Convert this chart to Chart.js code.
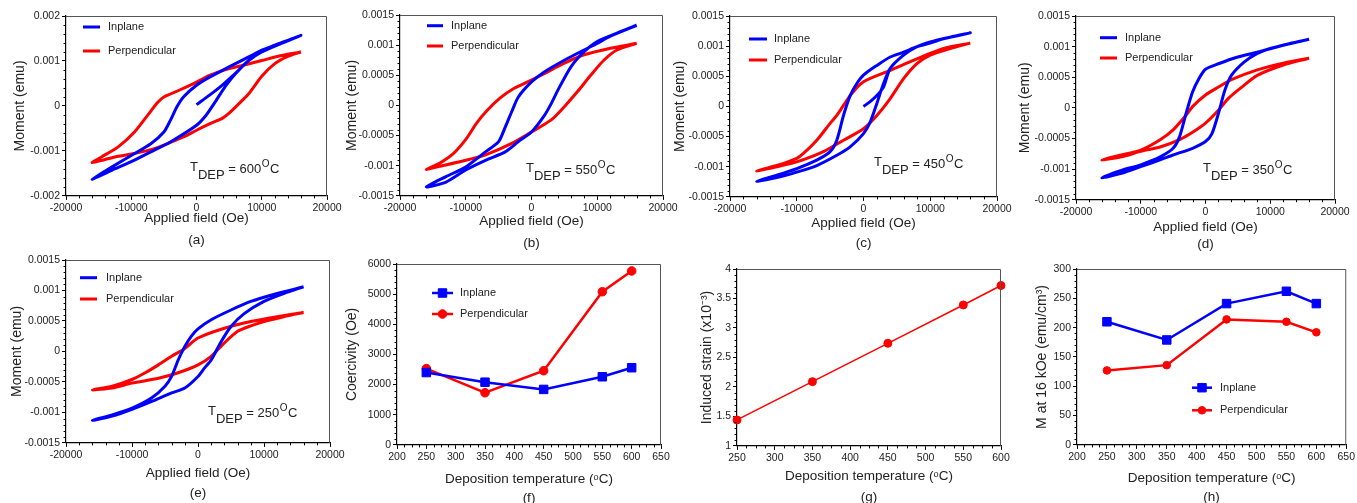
<!DOCTYPE html>
<html><head><meta charset="utf-8">
<script src="https://cdn.jsdelivr.net/npm/chart.js@4.4.1/dist/chart.umd.min.js"></script>
<style>
html,body{margin:0;padding:0;background:#fff;}
body{width:1357px;height:503px;position:relative;overflow:hidden;}
canvas{position:absolute;}
</style></head><body>
<script>
// ---------- tick labels ----------
const fieldTicks = [-20000, -10000, 0, 10000, 20000];
const momentTicksA = [-0.002, -0.001, 0, 0.001, 0.002];
const momentTicks = [-0.0015, -0.001, -0.0005, 0, 0.0005, 0.001, 0.0015];
const tempTicks = [200, 250, 300, 350, 400, 450, 500, 550, 600, 650];
const tempTicksG = [250, 300, 350, 400, 450, 500, 550, 600];
const coercTicks = [0, 1000, 2000, 3000, 4000, 5000, 6000];
const strainTicks = [1, 1.5, 2, 2.5, 3, 3.5, 4];
const magTicks = [0, 50, 100, 150, 200, 250, 300];

// ---------- hysteresis loops [field (Oe), moment (emu)] in drawing order ----------
const loopA_inplane = [[0,0.00003],[2000,0.00024],[4000,0.00047],[6000,0.00073],[8000,0.00101],[10000,0.0012],[13000,0.00139],[16000,0.00157],
 [12000,0.00135],[10000,0.00124],[8000,0.00109],[5000,0.00087],[2000,0.00064],[0,0.00046],[-2000,0.0002],[-3000,-0.00002],[-4000,-0.00032],[-5000,-0.00058],[-7000,-0.00084],[-10000,-0.0011],[-13000,-0.00136],[-16000,-0.00163],
 [-13000,-0.00143],[-10000,-0.00124],[-7000,-0.00102],[-4000,-0.0008],[0,-0.00043],[1500,-0.0002],[3000,0.00012],[4500,0.00045],[6000,0.00072],[8000,0.00101],[10000,0.0012],[13000,0.00139],[16000,0.00157]];
const loopA_perp = [[16000,0.0012],[13000,0.00112],[10000,0.00101],[7000,0.0009],[5000,0.00083],[2000,0.00068],[0,0.00053],[-2500,0.00036],[-5000,0.0002],[-6000,0.00007],[-7500,-0.00021],[-9500,-0.00058],[-12000,-0.00091],[-14500,-0.00113],[-16000,-0.00126],
 [-14000,-0.00119],[-12000,-0.00112],[-10000,-0.00107],[-7000,-0.00097],[-5000,-0.00087],[-2000,-0.00069],[0,-0.00054],[2000,-0.0004],[4000,-0.00027],[5000,-0.00016],[6500,0.00005],[8000,0.00027],[10000,0.00066],[12000,0.00094],[14000,0.0011],[16000,0.0012]];

const loopB_inplane = [[16000,0.00133],[12000,0.00115],[10000,0.00103],[8000,0.00092],[5000,0.00075],[2000,0.00056],[0,0.00039],[-2000,0.00014],[-3000,-0.0001],[-4000,-0.00036],[-5000,-0.0006],[-7000,-0.00077],[-10000,-0.00102],[-13000,-0.00118],[-16000,-0.00135],
 [-13000,-0.00127],[-10000,-0.00107],[-7000,-0.00091],[-4000,-0.00077],[-2000,-0.0006],[0,-0.00044],[2000,-0.00016],[3000,0.00003],[4000,0.00025],[6000,0.00064],[8000,0.00089],[10000,0.00106],[13000,0.0012],[16000,0.00133]];
const loopB_perp = [[16000,0.00103],[12000,0.00095],[8000,0.00084],[5000,0.0007],[2000,0.00053],[0,0.00042],[-2700,0.00028],[-4800,0.00012],[-6900,-0.0001],[-8400,-0.0003],[-9900,-0.00055],[-11900,-0.0008],[-14000,-0.00096],[-16000,-0.00106],
 [-14000,-0.00101],[-10000,-0.00091],[-7000,-0.00082],[-3000,-0.00063],[0,-0.00044],[3000,-0.00024],[5000,-0.00002],[7000,0.00023],[9000,0.0005],[11000,0.00075],[13000,0.00092],[16000,0.00103]];

const loopC_inplane = [[0,0],[1000,0.00008],[2000,0.00018],[3000,0.00032],[4000,0.00063],[6000,0.00085],[8000,0.00099],[10000,0.00107],[13000,0.00115],[16000,0.00122],
 [12000,0.00112],[10000,0.00105],[8000,0.00099],[6000,0.0009],[4000,0.00082],[2000,0.00068],[0,0.00052],[-1000,0.00038],[-2000,0.00018],[-3000,-0.00015],[-4000,-0.00056],[-5000,-0.00075],[-7000,-0.00089],[-10000,-0.00103],[-13000,-0.00114],[-16000,-0.00124],
 [-13000,-0.00118],[-10000,-0.00109],[-7000,-0.00098],[-4000,-0.00081],[-2000,-0.00067],[0,-0.00045],[1000,-0.00026],[2000,0.00005],[3000,0.00038],[4000,0.00063],[6000,0.00085],[8000,0.00099],[10000,0.00107],[13000,0.00115],[16000,0.00122]];
const loopC_perp = [[16000,0.00105],[12000,0.00096],[8000,0.00079],[4000,0.0006],[0,0.00041],[-2000,0.00018],[-4000,-0.00015],[-5000,-0.00028],[-7000,-0.00056],[-9000,-0.00078],[-10000,-0.00086],[-13000,-0.00098],[-16000,-0.00107],
 [-13000,-0.001],[-10000,-0.00092],[-6000,-0.00075],[-3000,-0.00056],[0,-0.00037],[2000,-0.00015],[4000,0.00013],[6000,0.00046],[8000,0.00071],[10000,0.00085],[13000,0.00096],[16000,0.00105]];

const loopD_inplane = [[16000,0.00112],[12000,0.00102],[8000,0.00091],[5000,0.00083],[2000,0.00072],[0,0.00063],[-1000,0.00048],[-2000,0.00026],[-3000,-0.00009],[-4000,-0.00047],[-5000,-0.00066],[-7000,-0.0008],[-10000,-0.00093],[-13000,-0.00102],[-16000,-0.00114],
 [-13000,-0.00107],[-10000,-0.00096],[-7000,-0.00085],[-5000,-0.00077],[-2000,-0.00066],[0,-0.00055],[1000,-0.00042],[2000,-0.00009],[3000,0.00029],[4000,0.00053],[6000,0.00075],[8000,0.00089],[10000,0.00097],[13000,0.00105],[16000,0.00112]];
const loopD_perp = [[16000,0.00081],[12000,0.00073],[8000,0.00062],[4000,0.00046],[2000,0.00034],[0,0.00021],[-2000,0.00002],[-3000,-0.00012],[-5000,-0.00036],[-7000,-0.00052],[-10000,-0.00069],[-13000,-0.00077],[-16000,-0.00085],
 [-13000,-0.0008],[-10000,-0.00071],[-7000,-0.00064],[-4000,-0.00052],[-2000,-0.0004],[0,-0.00025],[2000,-0.00004],[3500,0.00015],[5500,0.00033],[8000,0.00053],[12000,0.0007],[16000,0.00081]];

const loopE_inplane = [[16000,0.00106],[12000,0.00095],[8000,0.00082],[5000,0.00068],[2000,0.00052],[0,0.00037],[-1000,0.00025],[-2000,0.00008],[-3000,-0.00014],[-4000,-0.00041],[-5000,-0.00057],[-7000,-0.00076],[-10000,-0.00093],[-13000,-0.00104],[-16000,-0.00113],
 [-13000,-0.00106],[-10000,-0.00095],[-7000,-0.00082],[-4000,-0.00068],[-2000,-0.0006],[0,-0.00041],[1000,-0.00027],[2000,-0.00014],[3500,0.00016],[5000,0.00041],[7000,0.00062],[10000,0.00082],[13000,0.00095],[16000,0.00106]];
const loopE_perp = [[16000,0.00064],[12000,0.00057],[8000,0.00049],[4000,0.00038],[0,0.00022],[-2000,0.00005],[-4000,-0.00008],[-6000,-0.00022],[-8000,-0.00035],[-10000,-0.00046],[-13000,-0.00057],[-16000,-0.00063],
 [-13000,-0.0006],[-10000,-0.00052],[-6000,-0.00044],[-3000,-0.00035],[0,-0.00022],[2000,-0.00008],[4000,0.00014],[6000,0.00033],[8000,0.00042],[10000,0.00049],[13000,0.00057],[16000,0.00064]];

// ---------- summary data ----------
const depTemps = [250, 350, 450, 550, 600];
const coercInplane = [2400, 2080, 1840, 2260, 2560];
const coercPerp = [2530, 1730, 2460, 5080, 5770];
const strain = [1.44, 2.09, 2.74, 3.39, 3.72];
const magInplane = [210, 179, 241, 262, 241];
const magPerp = [127, 136, 214, 210, 192];

// ---------- rendering ----------
const FONT = "'Liberation Sans', Arial, Helvetica, sans-serif";
Chart.defaults.font.family = FONT;
Chart.defaults.color = '#222';
const BLUE = '#0000ff', RED = '#ff0000';
const fmt = v => String(Number(Number(v).toPrecision(6)));
const toXY = arr => arr.map(([x, y]) => ({x, y}));
const pairs = (xs, ys) => xs.map((x, i) => ({x, y: ys[i]}));

function drawMarker(ctx, style, r, x, y, color) {
  ctx.fillStyle = color; ctx.strokeStyle = color; ctx.lineWidth = 1;
  ctx.beginPath();
  if (style === 'rect') { const s = r * Math.SQRT1_2; ctx.rect(x - s, y - s, 2 * s, 2 * s); }
  else ctx.arc(x, y, r, 0, Math.PI * 2);
  ctx.fill(); ctx.stroke();
}

const extras = {
  id: 'extras',
  afterDraw(chart, args, o) {
    const {ctx, chartArea: ca, scales: {x, y}} = chart;
    ctx.save();
    ctx.strokeStyle = '#555'; ctx.lineWidth = 1;
    ctx.beginPath();
    ctx.moveTo(ca.left, ca.top + 0.5); ctx.lineTo(ca.right - 0.5, ca.top + 0.5); ctx.lineTo(ca.right - 0.5, ca.bottom);
    ctx.stroke();
    ctx.strokeStyle = '#000'; ctx.lineWidth = 1;
    const minor = (scale, step, major, horiz) => {
      const n = Math.round((scale.max - scale.min) / step);
      const k = Math.round(major / step);
      ctx.beginPath();
      for (let i = 0; i <= n; i++) {
        if (i % k === 0) continue;
        const p = Math.round(scale.getPixelForValue(scale.min + i * step)) + 0.5;
        if (horiz) { ctx.moveTo(p, ca.bottom); ctx.lineTo(p, ca.bottom + 2.5); }
        else { ctx.moveTo(ca.left, p); ctx.lineTo(ca.left - 2.5, p); }
      }
      ctx.stroke();
    };
    minor(x, o.xMinor[0], o.xMinor[1], true);
    minor(y, o.yMinor[0], o.yMinor[1], false);
    if (o.legend) {
      const lg = o.legend;
      chart.data.datasets.forEach((ds, i) => {
        const yy = ca.top + lg.dy + i * lg.gap;
        const x0 = ca.left + lg.dx;
        ctx.strokeStyle = ds.borderColor; ctx.lineWidth = lg.lw;
        ctx.beginPath(); ctx.moveTo(x0, yy); ctx.lineTo(x0 + lg.len, yy); ctx.stroke();
        if (lg.markers) drawMarker(ctx, ds.pointStyle, ds.pointRadius, x0 + lg.len / 2, yy, ds.borderColor);
        ctx.fillStyle = '#222'; ctx.font = `11px ${FONT}`; ctx.textBaseline = 'middle'; ctx.textAlign = 'left';
        ctx.fillText(ds.label, x0 + lg.len + lg.tg, yy);
      });
    }
    if (o.tdep) {
      let tx = ca.left + o.tdep.dx; const b = ca.bottom - o.tdep.db;
      ctx.fillStyle = '#222'; ctx.textBaseline = 'alphabetic'; ctx.textAlign = 'left';
      ctx.font = `13px ${FONT}`;
      ctx.fillText('T', tx, b - 2); tx += ctx.measureText('T').width;
      ctx.fillText('DEP', tx, b + 6); tx += ctx.measureText('DEP').width;
      const s = ' = ' + o.tdep.temp; ctx.fillText(s, tx, b); tx += ctx.measureText(s).width;
      ctx.font = `10px ${FONT}`; ctx.fillText('O', tx + 0.5, b - 6); tx += ctx.measureText('O').width + 1;
      ctx.font = `13px ${FONT}`; ctx.fillText('C', tx, b);
    }
    ctx.restore();
  }
};

function makePanel(p) {
  const XS = 13.5, YS = 14, LS = 13.5;
  const lhX = XS * 1.2, lhY = YS * 1.2, lhL = LS * 1.2;
  const yWidth = p.plot.L - p.box.x;
  const yPad = Math.max(0, p.yTitleX - p.box.x - lhY / 2);
  const xH = p.xTitleY + lhX / 2 - p.plot.B;
  const lPad = Math.max(0, p.labelY - (p.plot.B + xH) - lhL / 2);
  const h = Math.round(p.plot.B - p.box.y + xH + lhL + lPad + 2);
  const cv = document.createElement('canvas');
  cv.width = p.box.w; cv.height = h;
  cv.style.left = p.box.x + 'px'; cv.style.top = p.box.y + 'px';
  cv.style.width = p.box.w + 'px'; cv.style.height = h + 'px';
  document.body.appendChild(cv);
  const axis = (tk, title, size, pad, fit) => ({
    type: 'linear', min: tk[0], max: tk[tk.length - 1],
    afterBuildTicks: s => { s.ticks = tk.map(v => ({value: v})); },
    afterFit: fit,
    ticks: {autoSkip: false, maxRotation: 0, minRotation: 0, padding: 2, font: {size: 10.5}, color: '#222', callback: v => fmt(v)},
    grid: {display: true, drawOnChartArea: false, drawTicks: true, tickLength: 4, tickColor: '#000', tickWidth: 1},
    border: {display: true, color: '#000', width: 1.2},
    title: {display: true, text: title, font: {size}, color: '#222', padding: pad}
  });
  new Chart(cv, {
    type: 'scatter',
    data: {datasets: p.datasets},
    options: {
      responsive: false, animation: false, devicePixelRatio: 1,
      layout: {padding: {left: 0, top: p.plot.T - p.box.y, right: p.box.x + p.box.w - p.plot.R, bottom: 0}},
      scales: {
        x: axis(p.xTicks, p.xTitle, XS, {top: 0, bottom: 0}, s => { s.height = xH; }),
        y: axis(p.yTicks, p.yTitle, YS, {top: yPad, bottom: 0}, s => { s.width = yWidth; })
      },
      plugins: {
        legend: {display: false}, tooltip: {enabled: false},
        title: {display: true, position: 'bottom', fullSize: false, text: p.label,
                font: {size: LS, weight: 'normal'}, color: '#222', padding: {top: lPad, bottom: 2}},
        extras: {xMinor: p.xMinor, yMinor: p.yMinor, legend: p.legend, tdep: p.tdep}
      }
    },
    plugins: [extras]
  });
}

const loopSets = (inp, perp) => [
  {label: 'Inplane', data: toXY(inp), showLine: true, borderColor: BLUE, backgroundColor: BLUE, borderWidth: 3, pointRadius: 0, tension: 0.25, clip: false},
  {label: 'Perpendicular', data: toXY(perp), showLine: true, borderColor: RED, backgroundColor: RED, borderWidth: 3, pointRadius: 0, tension: 0.25, clip: false}
];
const loopLegend = (dx, len, tg, dy, gap) => ({dx, len, tg, dy, gap, lw: 3, markers: false});

const hyst = [
  {box: {x: 0, y: 0, w: 352}, plot: {L: 66, T: 16, R: 327, B: 196}, yTitleX: 20, xTitleY: 218, labelY: 240, label: '(a)',
   inp: loopA_inplane, perp: loopA_perp, yTicks: momentTicksA, yMinor: [0.0002, 0.001], legend: loopLegend(17, 17, 8, 11, 24), tdep: {dx: 124, db: 22.5, temp: '600'}},
  {box: {x: 340, y: 0, w: 348}, plot: {L: 400, T: 15, R: 663, B: 196}, yTitleX: 352, xTitleY: 221, labelY: 243, label: '(b)',
   inp: loopB_inplane, perp: loopB_perp, yTicks: momentTicks, yMinor: [0.0001, 0.0005], legend: loopLegend(27, 16, 8, 10.7, 20.3), tdep: {dx: 126, db: 21.5, temp: '550'}},
  {box: {x: 670, y: 0, w: 352}, plot: {L: 730, T: 16, R: 997, B: 197}, yTitleX: 680, xTitleY: 223, labelY: 243, label: '(c)',
   inp: loopC_inplane, perp: loopC_perp, yTicks: momentTicks, yMinor: [0.0001, 0.0005], legend: loopLegend(19, 18, 7, 23, 21), tdep: {dx: 144, db: 29, temp: '450'}},
  {box: {x: 1010, y: 0, w: 347}, plot: {L: 1076, T: 16, R: 1335, B: 200}, yTitleX: 1025, xTitleY: 228, labelY: 243, label: '(d)',
   inp: loopD_inplane, perp: loopD_perp, yTicks: momentTicks, yMinor: [0.0001, 0.0005], legend: loopLegend(24, 17, 8, 21.7, 20.3), tdep: {dx: 127, db: 26, temp: '350'}},
  {box: {x: 0, y: 250, w: 355}, plot: {L: 66, T: 260, R: 330, B: 443}, yTitleX: 17, xTitleY: 473, labelY: 493, label: '(e)',
   inp: loopE_inplane, perp: loopE_perp, yTicks: momentTicks, yMinor: [0.0001, 0.0005], legend: loopLegend(14, 17, 9, 17.7, 21.3), tdep: {dx: 142, db: 25.5, temp: '250'}}
];
hyst.forEach(h => makePanel({
  box: h.box, plot: h.plot, yTitleX: h.yTitleX, xTitleY: h.xTitleY, labelY: h.labelY, label: h.label,
  datasets: loopSets(h.inp, h.perp), xTicks: fieldTicks, yTicks: h.yTicks,
  xMinor: [2000, 10000], yMinor: h.yMinor,
  xTitle: 'Applied field (Oe)', yTitle: 'Moment (emu)', legend: h.legend, tdep: h.tdep
}));

const lineSet = (label, data, color, style, r, bw) => ({label, data, showLine: true, borderColor: color, backgroundColor: color,
  borderWidth: bw, pointStyle: style, pointRadius: r, pointBorderWidth: 1, tension: 0, clip: false});

makePanel({
  box: {x: 335, y: 250, w: 351}, plot: {L: 397, T: 264, R: 661, B: 445}, yTitleX: 352, xTitleY: 479, labelY: 498, label: '(f)',
  datasets: [lineSet('Inplane', pairs(depTemps, coercInplane), BLUE, 'rect', 6, 2.5),
             lineSet('Perpendicular', pairs(depTemps, coercPerp), RED, 'circle', 4.3, 2.5)],
  xTicks: tempTicks, yTicks: coercTicks, xMinor: [12.5, 50], yMinor: [200, 1000],
  xTitle: 'Deposition temperature (ᵒC)', yTitle: 'Coercivity (Oe)',
  legend: {dx: 35, len: 21, tg: 7, dy: 29, gap: 21, lw: 2.5, markers: true}
});
makePanel({
  box: {x: 690, y: 250, w: 336}, plot: {L: 737, T: 269, R: 1001, B: 446}, yTitleX: 707, xTitleY: 476, labelY: 497, label: '(g)',
  datasets: [lineSet('Induced strain', pairs(depTemps, strain), RED, 'circle', 4, 1.5)],
  xTicks: tempTicksG, yTicks: strainTicks, xMinor: [12.5, 50], yMinor: [0.1, 0.5],
  xTitle: 'Deposition temperature (ᵒC)', yTitle: 'Induced strain (x10⁻³)'
});
makePanel({
  box: {x: 1025, y: 250, w: 332}, plot: {L: 1077, T: 269, R: 1348, B: 445}, yTitleX: 1042, xTitleY: 478, labelY: 497, label: '(h)',
  datasets: [lineSet('Inplane', pairs(depTemps, magInplane), BLUE, 'rect', 6, 2.5),
             lineSet('Perpendicular', pairs(depTemps, magPerp), RED, 'circle', 3.8, 2.5)],
  xTicks: tempTicks, yTicks: magTicks, xMinor: [12.5, 50], yMinor: [10, 50],
  xTitle: 'Deposition temperature (ᵒC)', yTitle: 'M at 16 kOe (emu/cm³)',
  legend: {dx: 115, len: 20, tg: 8, dy: 118.7, gap: 22.6, lw: 2.5, markers: true}
});
</script>
</body></html>
